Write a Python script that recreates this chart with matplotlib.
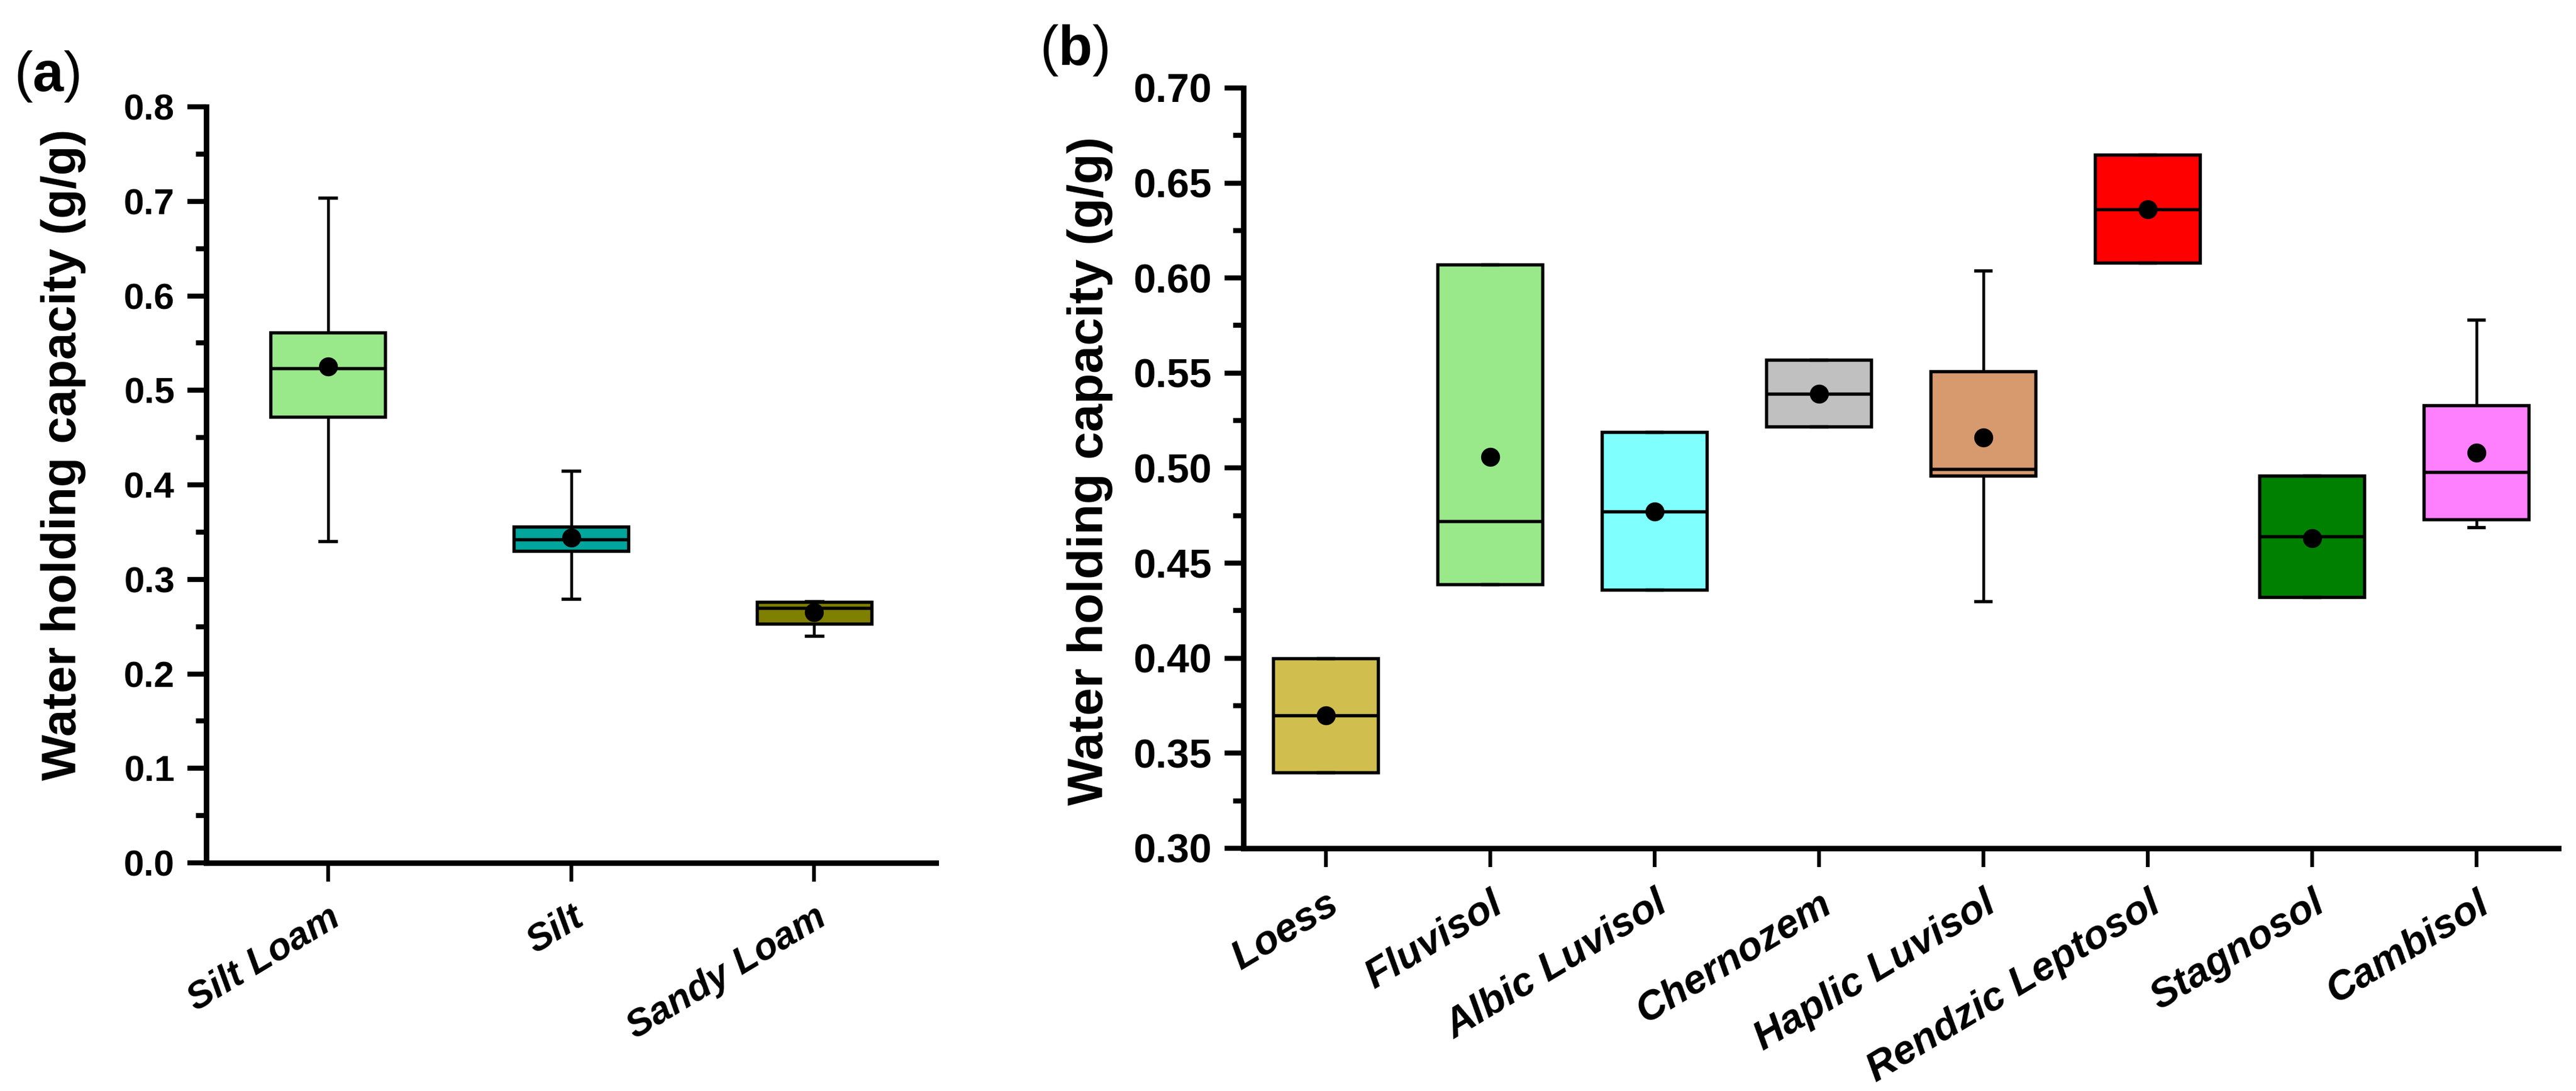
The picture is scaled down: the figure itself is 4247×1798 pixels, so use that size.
import matplotlib
matplotlib.use("Agg")
import matplotlib.pyplot as plt
from matplotlib.ticker import MultipleLocator, FormatStrFormatter

plt.rcParams['font.family'] = ['Liberation Sans', 'DejaVu Sans']
plt.rcParams['mathtext.fontset'] = 'custom'
plt.rcParams['mathtext.rm'] = 'Liberation Sans'
plt.rcParams['mathtext.bf'] = 'Liberation Sans:bold'

# panel (a): soil texture
textures = ['Silt Loam', 'Silt', 'Sandy Loam']
tex_q1 = [0.472, 0.330, 0.253]
tex_med = [0.523, 0.342, 0.270]
tex_q3 = [0.561, 0.356, 0.276]
tex_lo = [0.340, 0.279, 0.240]
tex_hi = [0.704, 0.415, 0.277]
tex_mean = [0.525, 0.344, 0.265]
tex_colors = ['#99E98B', '#00A59B', '#808000']

# panel (b): soil type
soils = ['Loess', 'Fluvisol', 'Albic Luvisol', 'Chernozem', 'Haplic Luvisol',
         'Rendzic Leptosol', 'Stagnosol', 'Cambisol']
soil_q1 = [0.340, 0.439, 0.436, 0.522, 0.496, 0.608, 0.432, 0.473]
soil_med = [0.370, 0.472, 0.477, 0.539, 0.4995, 0.636, 0.464, 0.498]
soil_q3 = [0.400, 0.607, 0.519, 0.557, 0.551, 0.665, 0.496, 0.533]
soil_lo = [0.340, 0.439, 0.436, 0.522, 0.430, 0.608, 0.432, 0.469]
soil_hi = [0.400, 0.607, 0.519, 0.557, 0.604, 0.665, 0.496, 0.578]
soil_mean = [0.370, 0.506, 0.477, 0.539, 0.516, 0.636, 0.463, 0.508]
soil_colors = ['#D0BF4E', '#99E98B', '#80FFFF', '#C0C0C0', '#D69A6E',
               '#FF0000', '#008000', '#FF80FF']


def make_stats(names, q1, med, q3, lo, hi, mean):
    stats = []
    for i in range(len(names)):
        stats.append({'label': names[i], 'q1': q1[i], 'med': med[i], 'q3': q3[i],
                      'whislo': lo[i], 'whishi': hi[i], 'mean': mean[i], 'fliers': []})
    return stats


def draw_box(ax, stats, colors, width, capw):
    n = len(stats)
    bp = ax.bxp(stats, positions=range(1, n + 1), widths=width, patch_artist=True,
                showmeans=True, showfliers=False, capwidths=[capw] * n,
                boxprops=dict(linewidth=1.3, edgecolor='black'),
                medianprops=dict(color='black', linewidth=1.3),
                whiskerprops=dict(color='black', linewidth=1.1),
                capprops=dict(color='black', linewidth=1.3),
                meanprops=dict(marker='o', markerfacecolor='black',
                               markeredgecolor='black', markersize=6.5))
    for patch, c in zip(bp['boxes'], colors):
        patch.set_facecolor(c)
    ax.set_xlim(0.5, n + 0.5)
    for s in ['top', 'right']:
        ax.spines[s].set_visible(False)
    for s in ['left', 'bottom']:
        ax.spines[s].set_linewidth(2.2)
    ax.tick_params(axis='y', which='major', length=7.5, width=2.0, pad=5)
    ax.tick_params(axis='y', which='minor', length=4, width=2.0)
    ax.tick_params(axis='x', which='major', length=7.5, width=1.5, pad=7)


fig = plt.figure(figsize=(4247 / 300, 1798 / 300), dpi=300)

ax1 = fig.add_axes([0.0801, 0.2091, 0.2832, 0.6930])
draw_box(ax1, make_stats(textures, tex_q1, tex_med, tex_q3, tex_lo, tex_hi, tex_mean),
         tex_colors, 0.47, 0.068)
ax1.set_ylim(0, 0.8)
ax1.yaxis.set_major_locator(MultipleLocator(0.1))
ax1.yaxis.set_minor_locator(MultipleLocator(0.05))
ax1.yaxis.set_major_formatter(FormatStrFormatter('%.1f'))
for lab in ax1.get_yticklabels():
    lab.set_fontsize(14.5)
    lab.set_fontweight('bold')
ax1.set_xticks(range(1, 4))
ax1.set_xticklabels(textures, rotation=31, ha='right', rotation_mode='anchor',
                    fontsize=15, fontweight='bold', fontstyle='italic')
ax1.set_ylabel('Water holding capacity (g/g)', fontsize=19.3, fontweight='bold', labelpad=15)
ax1.yaxis.label.set_y(0.54)
fig.text(0.0054, 0.930, r'($\mathbf{a}$)', fontsize=22, va='center', ha='left')

ax2 = fig.add_axes([0.4827, 0.2225, 0.5105, 0.6969])
draw_box(ax2, make_stats(soils, soil_q1, soil_med, soil_q3, soil_lo, soil_hi, soil_mean),
         soil_colors, 0.64, 0.092)
ax2.set_ylim(0.30, 0.70)
ax2.yaxis.set_major_locator(MultipleLocator(0.05))
ax2.yaxis.set_minor_locator(MultipleLocator(0.025))
ax2.yaxis.set_major_formatter(FormatStrFormatter('%.2f'))
for lab in ax2.get_yticklabels():
    lab.set_fontsize(16)
    lab.set_fontweight('bold')
ax2.set_xticks(range(1, 9))
ax2.set_xticklabels(soils, rotation=31, ha='right', rotation_mode='anchor',
                    fontsize=16, fontweight='bold', fontstyle='italic')
ax2.set_ylabel('Water holding capacity (g/g)', fontsize=19.8, fontweight='bold', labelpad=8)
ax2.yaxis.label.set_y(0.496)
fig.text(0.4036, 0.954, r'($\mathbf{b}$)', fontsize=22, va='center', ha='left')

fig.savefig('out.png', dpi=300)
